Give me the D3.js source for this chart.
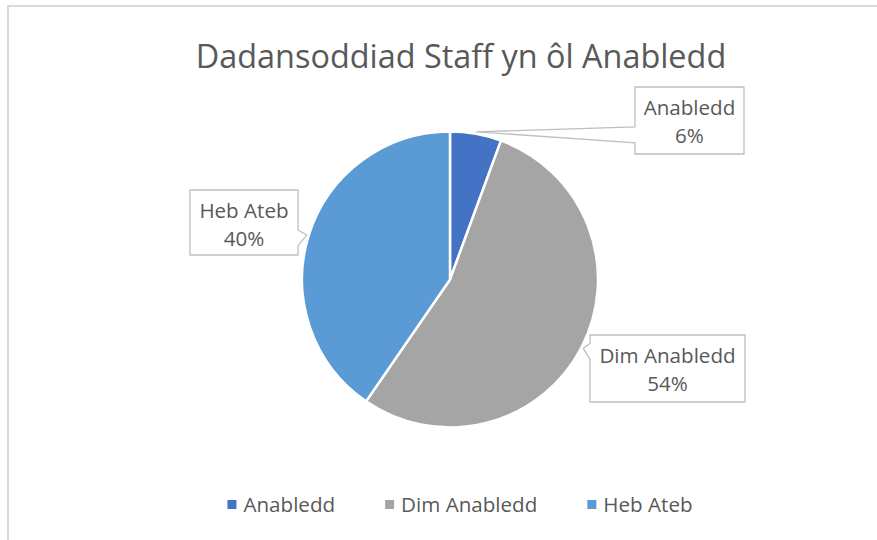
<!DOCTYPE html>
<html>
<head>
<meta charset="utf-8">
<script src="https://cdn.jsdelivr.net/npm/d3@7"></script>
<style>
  body { margin: 0; background: #fff; }
  svg text { font-family: "Open Sans", "Noto Sans", sans-serif; fill: #595959; }
</style>
</head>
<body>
<svg id="chart" width="877" height="540"></svg>
<script>
"use strict";
const categories = ['Anabledd', 'Dim Anabledd', 'Heb Ateb'];
const shares = [5.6, 54.0, 40.4];
const labels = ['6%', '54%', '40%'];
const colours = ['#4472C4', '#A5A5A5', '#5B9BD5'];
const title = 'Dadansoddiad Staff yn ôl Anabledd';

// callout boxes (left, top, width, height) and which side the pointer sits on
const boxes = [
    { x: 635, y: 87, w: 109, h: 67, side: 'left' },
    { x: 590, y: 335, w: 155, h: 67, side: 'left' },
    { x: 190, y: 190, w: 108, h: 65, side: 'right' }
];

function drawChart() {
    const svg = d3.select('#chart');
    svg.selectAll('*').remove();

    // outer frame
    svg.append('rect')
        .attr('x', 8).attr('y', 6)
        .attr('width', 900).attr('height', 600)
        .attr('fill', 'none')
        .attr('stroke', '#d9d9d9')
        .attr('stroke-width', 2);

    svg.append('text')
        .attr('x', 461).attr('y', 68)
        .attr('text-anchor', 'middle')
        .attr('font-size', '32.4px')
        .text(title);

    const cx = 450, cy = 279.5, r = 148;
    const color = d3.scaleOrdinal().domain(categories).range(colours);
    const pie = d3.pie().sort(null).value(d => d.v);
    const arcs = pie(categories.map((c, i) => ({ c, v: shares[i], lab: labels[i] })));
    const arc = d3.arc().innerRadius(0).outerRadius(r);

    const g = svg.append('g').attr('transform', `translate(${cx},${cy})`);
    g.selectAll('path')
        .data(arcs)
        .enter()
        .append('path')
        .attr('d', arc)
        .attr('fill', d => color(d.data.c))
        .attr('stroke', '#fff')
        .attr('stroke-width', 2.5)
        .attr('stroke-linejoin', 'round');

    // callouts
    arcs.forEach((d, i) => {
        const b = boxes[i];
        const mid = (d.startAngle + d.endAngle) / 2;
        const tx = cx + Math.sin(mid) * (r + 2);
        const ty = cy - Math.cos(mid) * (r + 2);
        const y0 = Math.max(b.y + 2, Math.min(ty - 5, b.y + b.h - 18));
        const y1 = y0 + 16;
        const L = b.x, R = b.x + b.w, T = b.y, B = b.y + b.h;
        const p = d3.path();
        if (b.side === 'left') {
            p.moveTo(L, T); p.lineTo(R, T); p.lineTo(R, B); p.lineTo(L, B);
            p.lineTo(L, y1); p.lineTo(tx, ty); p.lineTo(L, y0); p.closePath();
        } else {
            p.moveTo(L, T); p.lineTo(R, T); p.lineTo(R, y0); p.lineTo(tx, ty);
            p.lineTo(R, y1); p.lineTo(R, B); p.lineTo(L, B); p.closePath();
        }
        svg.append('path')
            .attr('d', p.toString())
            .attr('fill', '#fff')
            .attr('stroke', '#bfbfbf')
            .attr('stroke-width', 1.3);
        const t = svg.append('text')
            .attr('text-anchor', 'middle')
            .attr('font-size', '20.6px');
        t.append('tspan').attr('x', b.x + b.w / 2).attr('y', b.y + 28).text(d.data.c);
        t.append('tspan').attr('x', b.x + b.w / 2).attr('y', b.y + 56).text(d.data.lab);
    });

    // legend
    const lg = svg.append('g');
    let x = 0;
    const gap = 50;
    categories.forEach((c, i) => {
        const item = lg.append('g').attr('transform', `translate(${x},0)`);
        item.append('rect')
            .attr('x', 0).attr('y', 500)
            .attr('width', 9).attr('height', 9)
            .attr('fill', color(c));
        const t = item.append('text')
            .attr('x', 16).attr('y', 512)
            .attr('font-size', '20.6px')
            .text(c);
        x += 16 + t.node().getComputedTextLength() + gap;
    });
    const total = x - gap;
    lg.attr('transform', `translate(${460 - total / 2},0)`);
}
window.drawChart = drawChart;
drawChart();
</script>
</body>
</html>
